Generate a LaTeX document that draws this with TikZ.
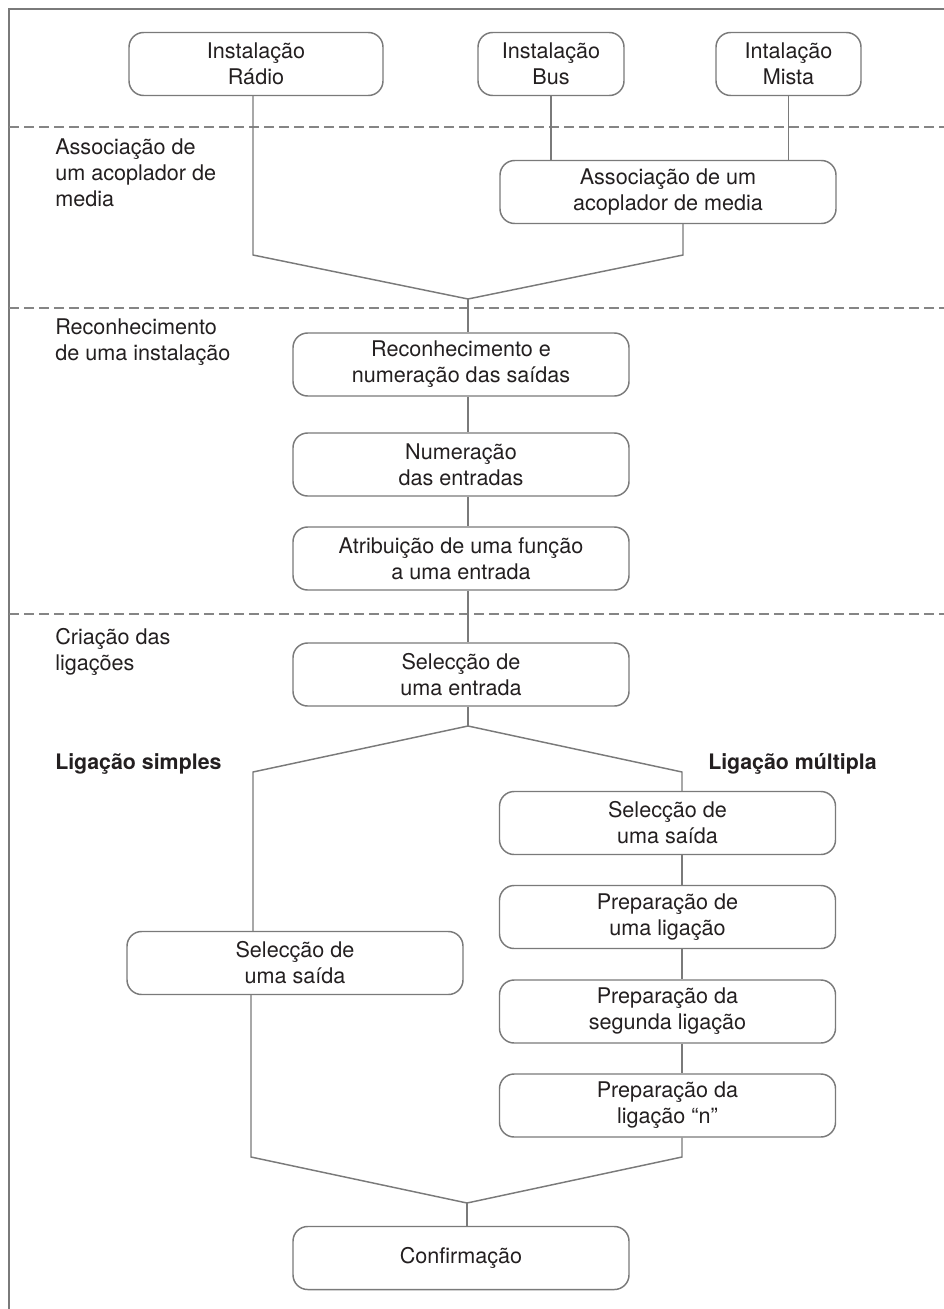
\documentclass[tikz,border=0pt]{standalone}
\usepackage{fontspec}
\setmainfont{TeX Gyre Heros}
\usepackage{tikz}
\definecolor{linegray}{HTML}{7A7A7A}
\definecolor{dashgray}{HTML}{858585}
\definecolor{textgray}{HTML}{231F20}
\tikzset{
    stepbox/.style={draw=linegray, line width=1.1pt, rounded corners=11pt,
        minimum width=252pt, minimum height=47.25pt, inner sep=0pt,
        align=center, text=textgray, font=\fontsize{16.2}{19.5}\selectfont},
    phase/.style={anchor=west, align=left, inner sep=0pt, text=textgray,
        font=\fontsize{16.2}{19.5}\selectfont},
    branch/.style={phase, font=\fontsize{16}{19.5}\selectfont\bfseries},
    link/.style={draw=linegray, line width=1.1pt},
    sepline/.style={draw=dashgray, line width=2pt, dash pattern=on 7.5pt off 3.75pt}
}

\begin{document}
\begin{tikzpicture}[x=0.75pt, y=-0.75pt]
    \useasboundingbox (0,0) rectangle (944,1309);
    \draw[linegray, line width=1.5pt] (9,1309) -- (9,9) -- (944,9);
    \draw[sepline] (9,127) -- (944,127);
    \draw[sepline] (9,308) -- (944,308);
    \draw[sepline] (9,614) -- (944,614);

    \node[phase] (ph1) at (55,173) {Associação de\\um acoplador de\\media};
    \node[phase] (ph2) at (55,342) {Reconhecimento\\de uma instalação};
    \node[phase] (ph3) at (55,652) {Criação das\\ligações};
    \node[branch] (simples) at (55,764) {Ligação simples};
    \node[branch] (multipla) at (708,764) {Ligação múltipla};

    \node[stepbox, minimum width=190.5pt] (radio) at (256,64) {Instalação\\Rádio};
    \node[stepbox, minimum width=109.5pt] (bus) at (551,64) {Instalação\\Bus};
    \node[stepbox, minimum width=108.75pt] (mista) at (788.5,64) {Intalação\\Mista};
    \node[stepbox] (assoc) at (668,192) {Associação de um\\acoplador de media};
    \node[stepbox] (recon) at (461,364.5) {Reconhecimento e\\numeração das saídas};
    \node[stepbox] (numer) at (461,464.5) {Numeração\\das entradas};
    \node[stepbox] (atrib) at (461,558.5) {Atribuição de uma função\\a uma entrada};
    \node[stepbox] (selent) at (461,674.5) {Selecção de\\uma entrada};
    \node[stepbox] (selsaiL) at (295,963) {Selecção de\\uma saída};
    \node[stepbox] (selsaiR) at (667.5,823) {Selecção de\\uma saída};
    \node[stepbox] (prep1) at (667.5,917) {Preparação de\\uma ligação};
    \node[stepbox] (prep2) at (667.5,1011.5) {Preparação da\\segunda ligação};
    \node[stepbox] (prepn) at (667.5,1105.5) {Preparação da\\ligação “n”};
    \node[stepbox] (confirm) at (461,1258) {Confirmação};

    % junctions
    \coordinate (ja) at (468,299);
    \coordinate (ra) at (253,255);
    \coordinate (aa) at (683,255);
    \coordinate (jb) at (468,726);
    \coordinate (lb) at (253,772);
    \coordinate (rb) at (682,772);
    \coordinate (jc) at (467,1203);
    \coordinate (lc) at (251,1157);
    \coordinate (rc) at (682,1157);

    \draw[link] (bus.south) -- (bus.south |- assoc.north);
    \draw[link] (mista.south) -- (mista.south |- assoc.north);
    \draw[link] (radio.south -| ra) -- (ra) -- (ja) -- (aa) -- (assoc.south -| aa);
    \draw[link] (ja) -- (recon.north -| ja);
    \draw[link] (recon.south -| ja) -- (numer.north -| ja);
    \draw[link] (numer.south -| ja) -- (atrib.north -| ja);
    \draw[link] (atrib.south -| ja) -- (selent.north -| ja);
    \draw[link] (selent.south -| jb) -- (jb);
    \draw[link] (selsaiL.north -| lb) -- (lb) -- (jb) -- (rb) -- (selsaiR.north -| rb);
    \draw[link] (selsaiR.south -| rb) -- (prep1.north -| rb);
    \draw[link] (prep1.south -| rb) -- (prep2.north -| rb);
    \draw[link] (prep2.south -| rb) -- (prepn.north -| rb);
    \draw[link] (selsaiL.south -| lc) -- (lc) -- (jc) -- (rc) -- (prepn.south -| rc);
    \draw[link] (jc) -- (confirm.north -| jc);
\end{tikzpicture}
\end{document}
